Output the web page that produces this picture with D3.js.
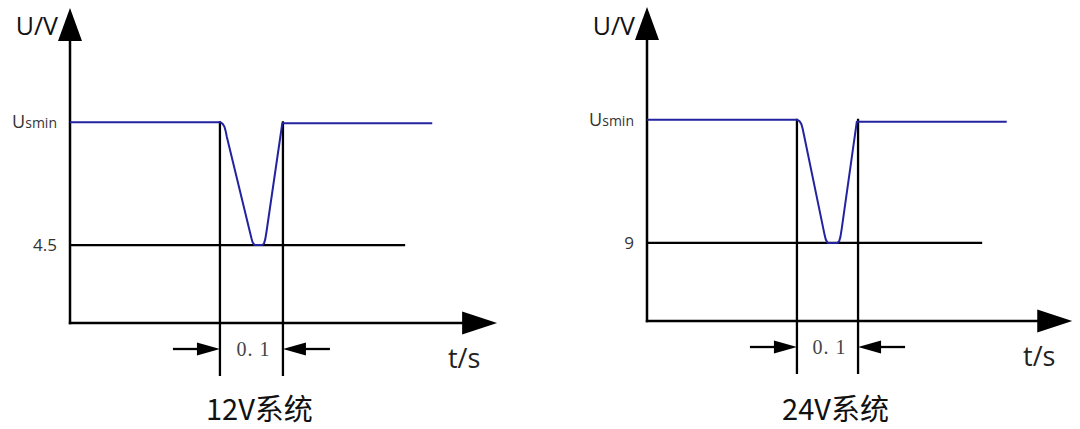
<!DOCTYPE html>
<meta charset="utf-8">
<script src="https://cdn.jsdelivr.net/npm/d3@7/dist/d3.min.js"></script>
<style>
  body { margin: 0; background: #fff; }
  .axis { stroke: #000; stroke-width: 2.5px; fill: none; }
  .guide { stroke: #000; stroke-width: 2.3px; fill: none; }
  .wave { stroke: #2323a0; stroke-width: 2px; fill: none; stroke-linejoin: round; }
  .lbl { font-family: "Open Sans", "Noto Sans", sans-serif; fill: #222; }
</style>
<body>
<div id="chart"></div>
<script>
// chart values (time in s, voltage in V)
var titles = ["12V系统", "24V系统"];
var lowLabels = ["4.5", "9"];
var lowValues = [4.5, 9];
var usMin = [11.6, 23.2];
var dipStart = [0.238, 0.238];
var dipEnd = [0.338, 0.335];
var dipLabel = "0. 1";
var lowLineEnd = [0.532, 0.532];

var wave12T = [0, 0.238, 0.242, 0.245, 0.247, 0.249, 0.288, 0.290, 0.293, 0.305, 0.308, 0.310, 0.312, 0.337, 0.338, 0.575];
var wave12V = [11.6, 11.6, 11.52, 11.35, 11.1, 10.75, 4.9, 4.65, 4.5, 4.5, 4.6, 4.85, 5.3, 11.54, 11.54, 11.54];
var wave24T = [0, 0.238, 0.242, 0.245, 0.247, 0.249, 0.282, 0.284, 0.287, 0.302, 0.305, 0.307, 0.309, 0.333, 0.335, 0.571];
var wave24V = [23.2, 23.2, 23.05, 22.7, 22.2, 21.5, 9.9, 9.35, 9.0, 9.0, 9.2, 9.7, 10.6, 22.96, 22.96, 22.96];

var waves = [[wave12T, wave12V], [wave24T, wave24V]];

// layout
var width = 1080, height = 429;
var origins = [[70, 323], [647, 321]];
var vMax = [18.2, 36.2];
var tMax = [0.678, 0.675];
var pxPerSec = 630;

var svg = d3.select("#chart").append("svg")
    .attr("width", width)
    .attr("height", height);

function drawPanel(i) {
    var ox = origins[i][0], oy = origins[i][1];
    var x = d3.scaleLinear().domain([0, tMax[i]]).range([ox, ox + tMax[i] * pxPerSec]);
    var y = d3.scaleLinear().domain([0, vMax[i]]).range([oy, i == 0 ? 8 : 7]);
    var g = svg.append("g");

    var yTip = y(vMax[i]), xTip = x(tMax[i]);

    // axes with arrowheads
    g.append("line").attr("class", "axis")
        .attr("x1", ox).attr("y1", oy + 1.2).attr("x2", ox).attr("y2", yTip + 30);
    g.append("path").attr("fill", "#000")
        .attr("d", "M" + ox + "," + yTip + "L" + (ox + 12) + "," + (yTip + 33) + "L" + (ox - 12) + "," + (yTip + 33) + "Z");
    g.append("line").attr("class", "axis")
        .attr("x1", ox - 1.2).attr("y1", oy).attr("x2", xTip - 32).attr("y2", oy);
    g.append("path").attr("fill", "#000")
        .attr("d", "M" + xTip + "," + oy + "L" + (xTip - 35) + "," + (oy - 11.5) + "L" + (xTip - 35) + "," + (oy + 11.5) + "Z");

    // low voltage guide
    g.append("line").attr("class", "guide")
        .attr("x1", ox).attr("y1", y(lowValues[i]))
        .attr("x2", x(lowLineEnd[i])).attr("y2", y(lowValues[i]));

    // dip markers
    [dipStart[i], dipEnd[i]].forEach(function(t) {
        g.append("line").attr("class", "guide")
            .attr("x1", x(t)).attr("y1", y(usMin[i]) - 1)
            .attr("x2", x(t)).attr("y2", oy + 53);
    });

    var ay = oy + 26;
    var xs = x(dipStart[i]), xe = x(dipEnd[i]);
    g.append("line").attr("class", "guide")
        .attr("x1", xs - 47).attr("y1", ay).attr("x2", xs - 20).attr("y2", ay);
    g.append("path").attr("fill", "#000")
        .attr("d", "M" + xs + "," + ay + "L" + (xs - 23) + "," + (ay - 6.5) + "L" + (xs - 23) + "," + (ay + 6.5) + "Z");
    g.append("line").attr("class", "guide")
        .attr("x1", xe + 47).attr("y1", ay).attr("x2", xe + 20).attr("y2", ay);
    g.append("path").attr("fill", "#000")
        .attr("d", "M" + xe + "," + ay + "L" + (xe + 23) + "," + (ay - 6.5) + "L" + (xe + 23) + "," + (ay + 6.5) + "Z");

    g.append("text")
        .attr("x", (xs + xe) / 2 + 2).attr("y", ay + 2)
        .attr("text-anchor", "middle").attr("dominant-baseline", "middle")
        .style("font-family", "'Liberation Serif', 'DejaVu Serif', serif")
        .style("font-size", "20px").style("fill", "#444")
        .style("letter-spacing", "1px")
        .text(dipLabel);

    // waveform
    var pts = waves[i][0].map(function(t, k) { return [t, waves[i][1][k]]; });
    var line = d3.line()
        .x(function(d) { return x(d[0]); })
        .y(function(d) { return y(d[1]); });
    g.append("path").attr("class", "wave").attr("d", line(pts));

    // labels
    g.append("text").attr("class", "lbl")
        .attr("x", ox - 12).attr("y", 35)
        .attr("text-anchor", "end")
        .style("font-size", "25px").style("fill", "#111")
        .text("U/V");

    var us = g.append("text").attr("class", "lbl")
        .attr("x", ox - 13).attr("y", y(usMin[i]) + 6)
        .attr("text-anchor", "end")
        .style("fill", "#333");
    us.append("tspan").style("font-size", "18px").text("U");
    us.append("tspan").style("font-size", "14px").text("smin");

    g.append("text").attr("class", "lbl")
        .attr("x", ox - 13).attr("y", y(lowValues[i]) + 6)
        .attr("text-anchor", "end")
        .style("font-size", "17px").style("fill", "#333")
        .text(lowLabels[i]);

    g.append("text").attr("class", "lbl")
        .attr("x", xTip - 33).attr("y", oy + 45)
        .attr("text-anchor", "middle")
        .style("font-size", "27px").style("fill", "#222")
        .text("t/s");

    g.append("text")
        .attr("x", (xs + xe) / 2 + 8).attr("y", 420)
        .attr("text-anchor", "middle")
        .style("font-family", "'Noto Sans CJK SC', sans-serif")
        .style("font-size", "29px").style("fill", "#111")
        .text(titles[i]);
}

drawPanel(0);
drawPanel(1);
</script>
</body>
